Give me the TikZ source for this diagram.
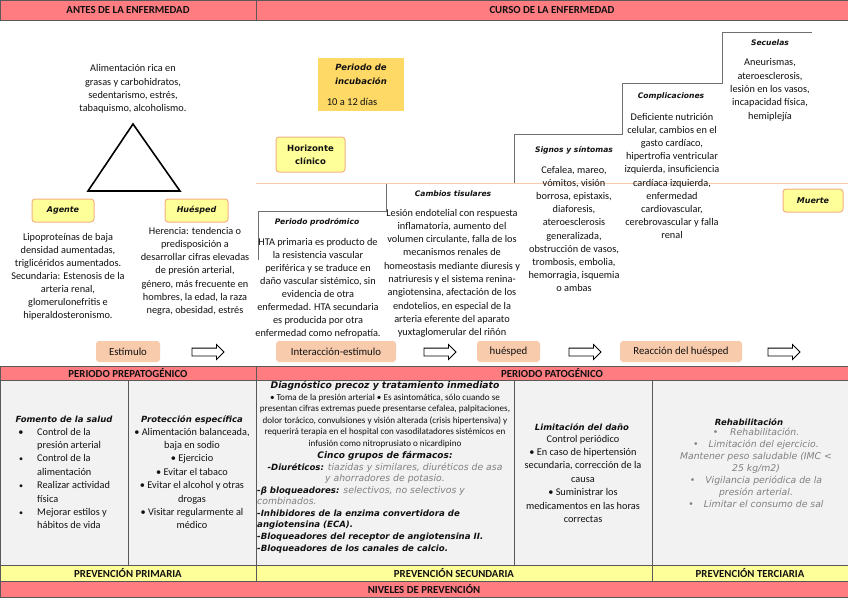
\documentclass[tikz,border=0pt]{standalone}
\usepackage{fontspec}
\setmainfont{Carlito}
\newfontfamily\vf{DejaVu Sans}
\usetikzlibrary{shapes.arrows}
\definecolor{salmon}{HTML}{FF7C80}
\definecolor{lyel}{HTML}{FFFF99}
\definecolor{ybord}{HTML}{F4B183}
\definecolor{gold}{HTML}{FFD966}
\definecolor{peach}{HTML}{F8CBAD}
\definecolor{cellg}{HTML}{F2F2F2}
\definecolor{gridc}{HTML}{595959}
\definecolor{stairc}{HTML}{707070}
\definecolor{greytxt}{HTML}{808080}
\definecolor{ink}{HTML}{111111}
\newcommand{\bo}{\vf\bfseries\itshape}
\begin{document}
\begin{tikzpicture}[x=1pt,y=-1pt,
  band/.style={draw=gridc, line width=0.7pt, inner sep=0pt, font=\bfseries\fontsize{10.8}{12}\selectfont, text=ink},
  cellbox/.style={draw=gridc, line width=0.7pt, fill=cellg, inner sep=0pt},
  ybox/.style={draw=ybord, line width=1pt, fill=lyel, rounded corners=3pt, inner sep=0pt, text=ink, font=\bo\fontsize{8}{10}\selectfont},
  pbox/.style={fill=peach, rounded corners=3pt, inner sep=0pt, minimum height=21pt, text=ink, font=\fontsize{10.8}{12}\selectfont},
  bodytxt/.style={align=center, inner sep=0pt, anchor=base, text=ink, font=\fontsize{10.3}{13.3}\selectfont},
  sthead/.style={inner sep=0pt, anchor=base, text=ink, font=\bo\fontsize{7.6}{9}\selectfont},
  thead/.style={inner sep=0pt, anchor=base, text=ink, font=\bo\fontsize{8.5}{10}\selectfont},
  stair/.style={draw=stairc, line width=0.9pt},
  barrow/.style={single arrow, draw=black, fill=white, line width=0.8pt, minimum height=32pt, minimum width=14pt, single arrow head extend=3.5pt, inner sep=3.5pt},
]
\useasboundingbox (0,0) rectangle (848,599);
\fill[white] (0,0) rectangle (848,599);

% headers
\node[band, fill=salmon, minimum width=256pt, minimum height=20pt] (hA) at (128,10) {ANTES DE LA ENFERMEDAD};
\node[band, fill=salmon, minimum width=592pt, minimum height=20pt] (hC) at (552,10) {CURSO DE LA ENFERMEDAD};

% triad (multi-line nodes: base = baseline of last line)
\node[bodytxt] (risk) at (133,111.9) {Alimentación rica en\\grasas y carbohidratos,\\sedentarismo, estrés,\\tabaquismo, alcoholismo.};
\coordinate (ta) at (133,124);
\coordinate (tb) at (88,191);
\coordinate (tc) at (180,191);
\draw[line width=1.6pt] (ta) -- (tb) -- (tc) -- cycle;

\node[ybox, minimum width=62pt, minimum height=23pt] (ag) at (63,210.5) {Agente};
\node[ybox, minimum width=63pt, minimum height=23pt] (hu) at (196.5,210.5) {Huésped};
\node[bodytxt, font=\fontsize{10.3}{13.1}\selectfont] (agt) at (68,318.6) {Lipoproteínas de baja\\densidad aumentadas,\\triglicéridos aumentados.\\Secundaria: Estenosis de la\\arteria renal,\\glomerulonefritis e\\hiperaldosteronismo.};
\node[bodytxt] (hut) at (195,313.8) {Herencia: tendencia o\\predisposición a\\desarrollar cifras elevadas\\de presión arterial,\\género, más frecuente en\\hombres, la edad, la raza\\negra, obesidad, estrés};

% incubation and horizon
\node[fill=gold, minimum width=86pt, minimum height=53pt, inner sep=0pt] (inc) at (361,84.5) {};
\node[thead, align=center, font=\bo\fontsize{8.5}{13.5}\selectfont] (inct) at (361,84.5) {Periodo de\\incubación};
\node[bodytxt, font=\fontsize{10.5}{12}\selectfont] (days) at (352,105.5) {10 a 12 días};
\node[ybox, align=center, font=\vf\bfseries\fontsize{8.5}{13}\selectfont, minimum width=69pt, minimum height=35pt] (hz) at (310.5,154.5) {Horizonte\\clínico};

% staircase
\coordinate (p0) at (258,260);
\coordinate (p1) at (386,211);
\coordinate (p2) at (514,183);
\coordinate (p3) at (622,134);
\coordinate (p4) at (722,83);
\coordinate (p5) at (812,32);
\draw[stair] (p0) |- (p1) |- (p2) |- (p3) |- (p4) |- (p5);
\coordinate (h0) at (256,183);
\coordinate (h1) at (848,183);
\draw[peach, line width=1pt] (h0) -- (h1);

\node[sthead] (prh) at (317,224) {Periodo prodrómico};
\node[bodytxt, font=\fontsize{10.3}{13.1}\selectfont] (prt) at (318,336.7) {HTA primaria es producto de\\la resistencia vascular\\periférica y se traduce en\\daño vascular sistémico, sin\\evidencia de otra\\enfermedad. HTA secundaria\\es producida por otra\\enfermedad como nefropatía.};
\node[sthead] (cth) at (453,196) {Cambios tisulares};
\node[bodytxt] (ctt) at (452,335.7) {Lesión endotelial con respuesta\\inflamatoria, aumento del\\volumen circulante, falla de los\\mecanismos renales de\\homeostasis mediante diuresis y\\natriuresis y el sistema renina-\\angiotensina, afectación de los\\endotelios, en especial de la\\arteria eferente del aparato\\yuxtaglomerular del riñón};
\node[sthead] (ssh) at (574,152) {Signos y síntomas};
\node[bodytxt, font=\fontsize{10.3}{13.2}\selectfont] (sst) at (574,291.8) {Cefalea, mareo,\\vómitos, visión\\borrosa, epistaxis,\\diaforesis,\\ateroesclerosis\\generalizada,\\obstrucción de vasos,\\trombosis, embolia,\\hemorragia, isquemia\\o ambas};
\node[sthead] (coh) at (671,99) {Complicaciones};
\node[bodytxt, font=\fontsize{10.3}{13.2}\selectfont] (cot) at (672,238.8) {Deficiente nutrición\\celular, cambios en el\\gasto cardíaco,\\hipertrofia ventricular\\izquierda, insuficiencia\\cardíaca izquierda,\\enfermedad\\cardiovascular,\\cerebrovascular y falla\\renal};
\node[sthead] (seh) at (770,46) {Secuelas};
\node[bodytxt] (set) at (770,119.2) {Aneurismas,\\ateroesclerosis,\\lesión en los vasos,\\incapacidad física,\\hemiplejía};
\node[ybox, minimum width=60pt, minimum height=23pt] (mu) at (813,200.5) {Muerte};

% arrow row
\node[pbox, minimum width=64pt] (b1) at (128,351.5) {Estímulo};
\node[barrow] (a1) at (206,352) {};
\node[pbox, minimum width=120pt] (b2) at (336,351.5) {Interacción-estímulo};
\node[barrow] (a2) at (438,352) {};
\node[pbox, minimum width=63pt] (b3) at (508.5,351.5) {huésped};
\node[barrow] (a3) at (583,352) {};
\node[pbox, minimum width=122pt] (b4) at (681,351.5) {Reacción del huésped};
\node[barrow] (a4) at (782,352) {};

% table
\node[band, fill=salmon, minimum width=256pt, minimum height=14pt] (pp) at (128,373) {PERIODO PREPATOGÉNICO};
\node[band, fill=salmon, minimum width=592pt, minimum height=14pt] (pg) at (552,373) {PERIODO PATOGÉNICO};
\node[cellbox, minimum width=128pt, minimum height=185pt] (c1) at (64,472.5) {};
\node[cellbox, minimum width=128pt, minimum height=185pt] (c2) at (192,472.5) {};
\node[cellbox, minimum width=258pt, minimum height=185pt] (c3) at (385,472.5) {};
\node[cellbox, minimum width=138pt, minimum height=185pt] (c4) at (583,472.5) {};
\node[cellbox, minimum width=196pt, minimum height=185pt] (c5) at (750,472.5) {};
\node[band, fill=lyel, minimum width=256pt, minimum height=16pt] (v1) at (128,573) {PREVENCIÓN PRIMARIA};
\node[band, fill=lyel, minimum width=396pt, minimum height=16pt] (v2) at (454,573) {PREVENCIÓN SECUNDARIA};
\node[band, fill=lyel, minimum width=196pt, minimum height=16pt] (v3) at (750,573) {PREVENCIÓN TERCIARIA};
\node[band, fill=salmon, minimum width=848pt, minimum height=16pt] (nv) at (424,589) {NIVELES DE PREVENCIÓN};

% column 1
\node[thead] (fh) at (64,422) {Fomento de la salud};
\node[inner sep=0pt, anchor=base west, align=left, text=ink, font=\fontsize{10.3}{13.4}\selectfont] (fl) at (37,528.8) {Control de la\\presión arterial\\Control de la\\alimentación\\Realizar actividad\\física\\Mejorar estilos y\\hábitos de vida};
\node[inner sep=0pt, anchor=base, text=ink, font=\fontsize{10.3}{12}\selectfont] (fb1) at (21,435) {•};
\node[inner sep=0pt, anchor=base, text=ink, font=\fontsize{8}{12}\selectfont] (fb2) at (21,461.8) {•};
\node[inner sep=0pt, anchor=base, text=ink, font=\fontsize{8}{12}\selectfont] (fb3) at (21,488.6) {•};
\node[inner sep=0pt, anchor=base, text=ink, font=\fontsize{8}{12}\selectfont] (fb4) at (21,515.4) {•};

% column 2
\node[thead] (ph) at (192,422) {Protección específica};
\node[bodytxt, font=\fontsize{10.3}{13.4}\selectfont] (pl) at (192,528.8) {• Alimentación balanceada,\\baja en sodio\\• Ejercicio\\• Evitar el tabaco\\• Evitar el alcohol y otras\\drogas\\• Visitar regularmente al\\médico};

% column 3
\node[thead, font=\bo\fontsize{9.2}{10}\selectfont] (dh) at (385,388) {Diagnóstico precoz y tratamiento inmediato};
\node[bodytxt, font=\fontsize{9.1}{11.5}\selectfont] (dt) at (385,446) {• Toma de la presión arterial • Es asintomática, sólo cuando se\\presentan cifras extremas puede presentarse cefalea, palpitaciones,\\dolor torácico, convulsiones y visión alterada (crisis hipertensiva) y\\requerirá terapia en el hospital con vasodilatadores sistémicos en\\infusión como nitroprusiato o nicardipino};
\node[thead, font=\bo\fontsize{9}{10}\selectfont] (cg) at (385,458) {Cinco grupos de fármacos:};
\node[inner sep=0pt, anchor=base, align=center, text=ink, font=\vf\itshape\fontsize{9.3}{11.4}\selectfont] (di) at (385,481.4) {{\bfseries\fontsize{8.6}{11.4}\selectfont -Diuréticos:} {\color{greytxt}tiazidas y similares, diuréticos de asa}\\{\color{greytxt}y ahorradores de potasio.}};
\node[inner sep=0pt, anchor=base west, align=left, text=ink, font=\vf\itshape\fontsize{9.3}{11.6}\selectfont] (fl3) at (257,551) {{\bfseries\fontsize{8.6}{11.6}\selectfont -β bloqueadores:} {\color{greytxt}selectivos, no selectivos y}\\{\color{greytxt}combinados.}\\{\bfseries\fontsize{8.6}{11.6}\selectfont -Inhibidores de la enzima convertidora de}\\{\bfseries\fontsize{8.6}{11.6}\selectfont angiotensina (ECA).}\\{\bfseries\fontsize{8.6}{11.6}\selectfont -Bloqueadores del receptor de angiotensina II.}\\{\bfseries\fontsize{8.6}{11.6}\selectfont -Bloqueadores de los canales de calcio.}};

% column 4
\node[thead] (lh) at (582,430) {Limitación del daño};
\node[bodytxt, font=\fontsize{10.3}{13.4}\selectfont] (lt) at (583,522.4) {Control periódico\\• En caso de hipertensión\\secundaria, corrección de la\\causa\\• Suministrar los\\medicamentos en las horas\\correctas};

% column 5
\node[thead] (rh) at (749,425) {Rehabilitación};
\node[inner sep=0pt, anchor=base, align=center, text=greytxt, font=\vf\itshape\fontsize{9.3}{12.1}\selectfont] (rt) at (756,507.6) {•\hspace{12pt}Rehabilitación.\\•\hspace{10pt}Limitación del ejercicio.\\Mantener peso saludable (IMC <\\25 kg/m2)\\•\hspace{10pt}Vigilancia periódica de la\\presión arterial.\\•\hspace{10pt}Limitar el consumo de sal};
\end{tikzpicture}
\end{document}
